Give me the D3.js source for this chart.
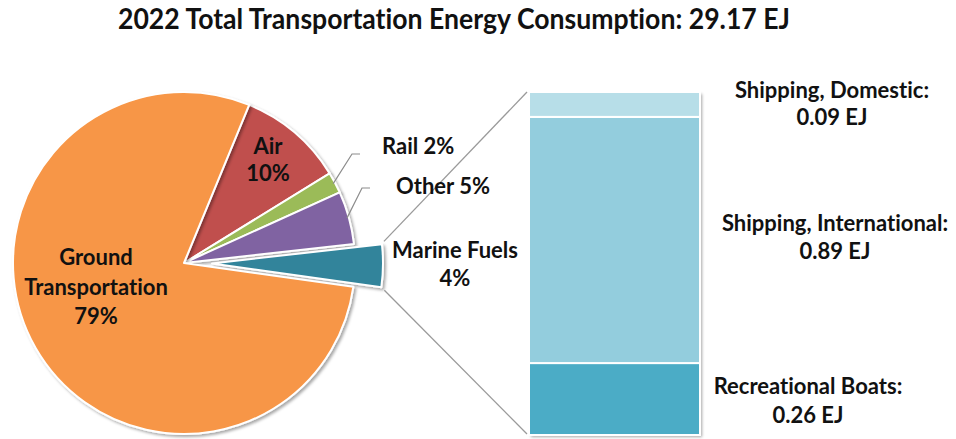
<!DOCTYPE html>
<html>
<head>
<meta charset="utf-8">
<script src="https://cdn.jsdelivr.net/npm/d3@7/dist/d3.min.js"></script>
<style>
  html, body { margin: 0; padding: 0; background: #ffffff; }
  svg { display: block; }
  text { font-family: Lato, "Open Sans", sans-serif; font-weight: 700; fill: #111; font-variant-ligatures: none; }
</style>
</head>
<body>
<svg id="chart" width="956" height="439"></svg>
<script>
// Transportation energy shares, 2022 (percent of 29.17 EJ)
const pieCategories = ["Air", "Rail", "Other", "Marine Fuels", "Ground Transportation"];
const pieShares = [10, 2, 5, 4, 79];
const pieColors = ["#C0504D", "#9BBB59", "#8064A2", "#31849B", "#F79646"];

// Marine fuels breakdown (EJ), stacked bottom to top
const barCategories = ["Recreational Boats", "Shipping, International", "Shipping, Domestic"];
const barValues = [0.26, 0.89, 0.09];
const barColors = ["#4BACC6", "#93CDDD", "#B7DEE8"];

const titleText = "2022 Total Transportation Energy Consumption: 29.17 EJ";

const svg = d3.select("#chart");
const defs = svg.append("defs");
const shadow = defs.append("filter").attr("id", "shadow")
  .attr("x", "-20%").attr("y", "-20%").attr("width", "140%").attr("height", "140%");
shadow.append("feDropShadow")
  .attr("dx", 2).attr("dy", 2).attr("stdDeviation", 1.6)
  .attr("flood-color", "#000").attr("flood-opacity", 0.35);

// Title
svg.append("text")
  .attr("x", 454).attr("y", 29)
  .attr("text-anchor", "middle")
  .attr("textLength", 672)
  .attr("lengthAdjust", "spacingAndGlyphs")
  .style("font-size", "28px")
  .text(titleText);

// Pie
const cx = 184, cy = 263, R = 171;
const startDeg = 22.4;
const pie = d3.pie().sort(null).value(d => d)
  .startAngle(startDeg * Math.PI / 180)
  .endAngle(startDeg * Math.PI / 180 + 2 * Math.PI);
const arcs = pie(pieShares);
const arc = d3.arc().innerRadius(0).outerRadius(R);
const explodeIdx = pieCategories.indexOf("Marine Fuels");
const explode = 28;

function offsetOf(i) {
  if (i !== explodeIdx) return [0, 0];
  const a = (arcs[i].startAngle + arcs[i].endAngle) / 2;
  return [Math.sin(a) * explode, -Math.cos(a) * explode];
}

const pieG = svg.append("g").attr("transform", `translate(${cx},${cy})`);
pieG.selectAll("path.slice")
  .data(arcs)
  .join("path")
  .attr("class", "slice")
  .attr("transform", (d, i) => { const o = offsetOf(i); return `translate(${o[0]},${o[1]})`; })
  .attr("d", arc)
  .attr("fill", (d, i) => pieColors[i])
  .attr("stroke", "#ffffff")
  .attr("stroke-width", 2)
  .attr("stroke-linejoin", "round")
  .attr("filter", "url(#shadow)");

// Stacked bar for the exploded slice
const barX0 = 529, barX1 = 700, barTop = 92, barBottom = 435;
const total = d3.sum(barValues);
const y = d3.scaleLinear().domain([0, total]).range([barBottom, barTop]);
let acc = 0;
const stacks = barValues.map((v, i) => { const s = { y0: acc, y1: acc + v, i }; acc += v; return s; });

const barG = svg.append("g");
barG.append("rect")
  .attr("x", barX0).attr("y", barTop)
  .attr("width", barX1 - barX0).attr("height", barBottom - barTop)
  .attr("fill", "#ffffff")
  .attr("filter", "url(#shadow)");
barG.selectAll("rect.seg")
  .data(stacks)
  .join("rect")
  .attr("class", "seg")
  .attr("x", barX0)
  .attr("y", d => y(d.y1))
  .attr("width", barX1 - barX0)
  .attr("height", d => y(d.y0) - y(d.y1))
  .attr("fill", d => barColors[d.i])
  .attr("stroke", "#ffffff")
  .attr("stroke-width", 2);

// Connector lines from the exploded slice to the bar
const mArc = arcs[explodeIdx];
const mo = offsetOf(explodeIdx);
const cornerTop = [cx + mo[0] + Math.sin(mArc.startAngle) * R, cy + mo[1] - Math.cos(mArc.startAngle) * R];
const cornerBot = [cx + mo[0] + Math.sin(mArc.endAngle) * R, cy + mo[1] - Math.cos(mArc.endAngle) * R];
svg.append("line")
  .attr("x1", cornerTop[0] + 2).attr("y1", cornerTop[1] - 3)
  .attr("x2", barX0 - 2).attr("y2", y(total))
  .attr("stroke", "#9a9a9a").attr("stroke-width", 1.3);
svg.append("line")
  .attr("x1", cornerBot[0] + 3).attr("y1", cornerBot[1] + 3)
  .attr("x2", barX0 - 2).attr("y2", y(0) - 1)
  .attr("stroke", "#9a9a9a").attr("stroke-width", 1.3);

// Leader lines for small outside labels
function leader(i, ex, ey, hx) {
  const d = arcs[i];
  const a = (d.startAngle + d.endAngle) / 2;
  const sx = cx + Math.sin(a) * (R - 2), sy = cy - Math.cos(a) * (R - 2);
  svg.append("polyline")
    .attr("points", `${sx},${sy} ${ex},${ey} ${hx},${ey}`)
    .attr("fill", "none")
    .attr("stroke", "#8c8c8c").attr("stroke-width", 1.2);
}
leader(pieCategories.indexOf("Rail"), 352, 154, 360);
leader(pieCategories.indexOf("Other"), 362, 188, 370);

// Pie labels
const fmt = v => v + "%";
function label(lines, x, yb, size, lh, anchor) {
  const t = svg.append("text")
    .attr("text-anchor", anchor || "middle")
    .style("font-size", size + "px");
  lines.forEach((s, k) => t.append("tspan").attr("x", x).attr("y", yb + k * lh).text(s));
}
const gi = pieCategories.indexOf("Ground Transportation");
const ai = pieCategories.indexOf("Air");
const ri = pieCategories.indexOf("Rail");
const oi = pieCategories.indexOf("Other");
label(["Ground", "Transportation", fmt(pieShares[gi])], 96, 265, 22, 29.5);
label([pieCategories[ai], fmt(pieShares[ai])], 268, 154, 22, 27);
label([pieCategories[ri] + " " + fmt(pieShares[ri])], 382, 154, 22, 0, "start");
label([pieCategories[oi] + " " + fmt(pieShares[oi])], 396, 194, 22, 0, "start");
label([pieCategories[explodeIdx], fmt(pieShares[explodeIdx])], 455, 258, 22, 28);

// Bar labels
const ej = v => v.toFixed(2) + " EJ";
label([barCategories[2] + ":", ej(barValues[2])], 832, 98, 22, 27);
label([barCategories[1] + ":", ej(barValues[1])], 835, 231, 22, 28);
label([barCategories[0] + ":", ej(barValues[0])], 808, 394, 22, 29);
</script>
</body>
</html>
